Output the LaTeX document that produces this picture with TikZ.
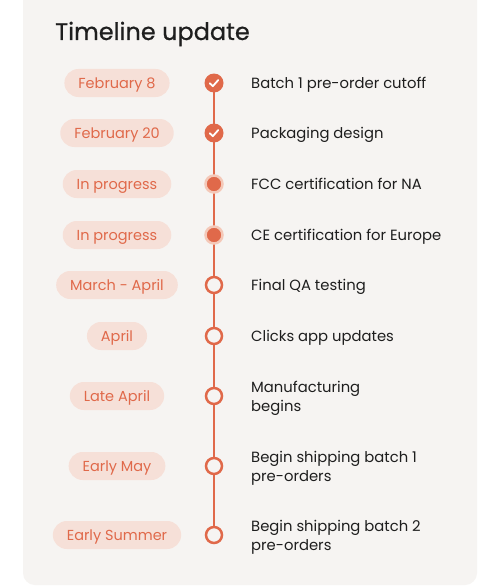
\documentclass[tikz,border=0pt]{standalone}
\usepackage{fontspec}
\setmainfont{Poppins}
\definecolor{card}{HTML}{F6F4F2}
\definecolor{accent}{HTML}{E0694A}
\definecolor{pill}{HTML}{F6E0D8}
\definecolor{halo}{HTML}{F4C8B8}
\definecolor{ink}{HTML}{1E1E1E}
\begin{document}
\begin{tikzpicture}[x=1pt,y=-1pt,
  pillbox/.style={fill=pill,rounded corners=14pt,minimum height=28pt,text=accent,font=\fontsize{14.5}{17}\selectfont,inner xsep=14pt,inner ysep=0pt,text height=10.2pt,text depth=0pt},
  label/.style={anchor=base west,text=ink,font=\fontsize{14.8}{19.5}\selectfont,align=left,inner sep=0pt},
  donedot/.style={circle,fill=accent,minimum size=19pt,inner sep=0pt},
  progdot/.style={circle,fill=accent,draw=halo,line width=2.5pt,minimum size=17pt,inner sep=0pt},
  opendot/.style={circle,fill=card,draw=accent,line width=2.5pt,minimum size=16pt,inner sep=0pt},
  tick/.style={white,line width=1.8pt,line cap=round,line join=round}]
\useasboundingbox (0,0) rectangle (500,586);
\fill[white] (0,0) rectangle (500,586);
\fill[card,rounded corners=12pt] (23,-20) rectangle (477,585);
\node[anchor=base west,inner sep=0pt,text=ink,font=\fontsize{24}{27}\selectfont\addfontfeature{FakeBold=0.6}] (title) at (55,40) {Timeline update};
% pills
\node[pillbox] (p1) at (117,83) {February 8};
\node[pillbox] (p2) at (117,133) {February 20};
\node[pillbox] (p3) at (117,184) {In progress};
\node[pillbox] (p4) at (117,235) {In progress};
\node[pillbox] (p5) at (117,285) {March - April};
\node[pillbox] (p6) at (117,336) {April};
\node[pillbox] (p7) at (117,396) {Late April};
\node[pillbox] (p8) at (117,466) {Early May};
\node[pillbox] (p9) at (117,535) {Early Summer};
% timeline line
\coordinate (top) at (214,83);
\coordinate (bot) at (214,535);
\draw[accent,line width=2.5pt] (top) -- (bot);
% dots
\node[donedot] (d1) at (214,83) {};
\node[donedot] (d2) at (214,133) {};
\node[progdot] (d3) at (214,184) {};
\node[progdot] (d4) at (214,235) {};
\node[opendot] (d5) at (214,285) {};
\node[opendot] (d6) at (214,336) {};
\node[opendot] (d7) at (214,396) {};
\node[opendot] (d8) at (214,466) {};
\node[opendot] (d9) at (214,535) {};
\foreach \d in {d1,d2}{
  \draw[tick] ([shift={(-4.2,0.3)}]\d.center) -- ([shift={(-1.2,3.2)}]\d.center) -- ([shift={(4.3,-3)}]\d.center);
}
% labels
\node[label] (l1) at (251,88.5) {Batch 1 pre-order cutoff};
\node[label] (l2) at (251,138.5) {Packaging design};
\node[label] (l3) at (251,189.5) {FCC certification for NA};
\node[label] (l4) at (251,240.5) {CE certification for Europe};
\node[label] (l5) at (251,290.5) {Final QA testing};
\node[label] (l6) at (251,341.5) {Clicks app updates};
\node[label] (l7) at (251,411.5) {Manufacturing\\begins};
\node[label] (l8) at (251,481.5) {Begin shipping batch 1\\pre-orders};
\node[label] (l9) at (251,550.5) {Begin shipping batch 2\\pre-orders};
\end{tikzpicture}
\end{document}
